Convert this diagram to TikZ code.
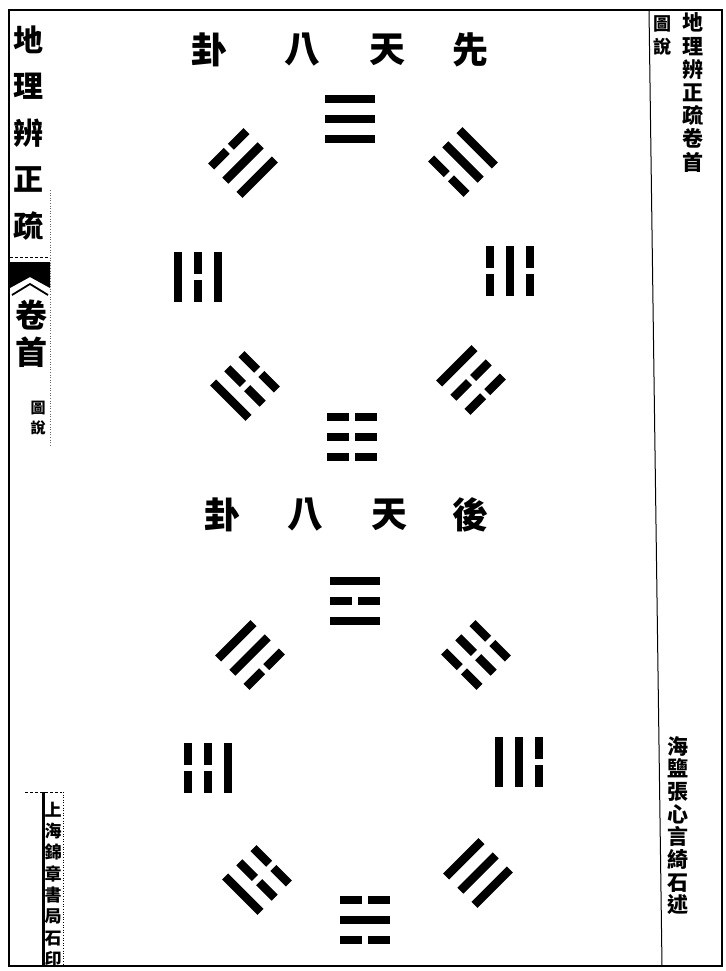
\documentclass[tikz,border=0pt]{standalone}
\usepackage{fontspec}
\newfontfamily\cjk{Noto Sans CJK TC}
\tikzset{
  yaoline/.style={line width=8.5pt, line cap=butt, black},
  framel/.style={line width=1.4pt, black},
  vcol/.style={inner sep=0pt, align=center, text=black},
  titlech/.style={inner sep=0pt, text=black, font=\cjk\bfseries\fontsize{36}{36}\selectfont},
}
\newcommand\yao[2]{%
  \ifnum#2=1 \draw[yaoline] (-25,#1) -- (25,#1);%
  \else \draw[yaoline] (-25,#1) -- (-3,#1) (3,#1) -- (25,#1);\fi}
% x, y, outward angle, outer, middle, inner (1 solid, 0 broken)
\newcommand\trigram[6]{%
  \begin{scope}[shift={(#1,#2)}, rotate=#3-90]
    \yao{20}{#4}\yao{0}{#5}\yao{-20}{#6}
  \end{scope}}
\begin{document}
\begin{tikzpicture}[x=1pt,y=1pt]
\fill[white] (0,0) rectangle (725,-971);
\useasboundingbox (0,0) rectangle (725,-971);

% frame
\draw[framel] (9,-10) rectangle (722,-966);
\draw[line width=1pt] (649,-10) -- (662,-966);

% left column
\node[vcol, font=\cjk\bfseries\fontsize{30}{46.5}\selectfont] (lt) at (28,-133) {地\\理\\辨\\正\\疏};
\draw[densely dashed, line width=0.6pt] (10,-257) -- (50,-257);
\fill[black] (10,-262) -- (50,-262) -- (50,-288) -- (30,-277) -- (10,-288) -- cycle;
\draw[line width=1.8pt] (12,-295) -- (30,-284) -- (48,-295);
\node[vcol, font=\cjk\bfseries\fontsize{32}{37}\selectfont] (juan) at (31,-333.5) {卷\\首};
\node[vcol, font=\cjk\bfseries\fontsize{15}{20}\selectfont] (tsl) at (38,-418) {圖\\說};
\draw[dotted, line width=0.6pt, black!60] (50,-190) -- (50,-445);

% bottom-left imprint
\draw[densely dashed, line width=0.6pt] (25,-792) -- (62,-792);
\draw[line width=3pt] (43,-792) -- (43,-966);
\draw[dotted, line width=0.6pt] (63,-792) -- (63,-966);
\node[vcol, font=\cjk\bfseries\fontsize{17}{21.3}\selectfont] (imp) at (53,-884.5) {上\\海\\錦\\章\\書\\局\\石\\印};

% right column
\node[vcol, font=\cjk\bfseries\fontsize{21}{23.2}\selectfont] (rt) at (693,-92.5) {地\\理\\辨\\正\\疏\\卷\\首};
\node[vcol, font=\cjk\bfseries\fontsize{18}{23}\selectfont] (rsl) at (662,-35.5) {圖\\說};
\node[vcol, font=\cjk\bfseries\fontsize{21}{22.7}\selectfont] (auth) at (678,-825.5) {海\\鹽\\張\\心\\言\\綺\\石\\述};

% titles
\node[titlech] (t1a) at (209,-50) {卦};
\node[titlech] (t1b) at (302,-50) {八};
\node[titlech] (t1c) at (387,-50) {天};
\node[titlech] (t1d) at (470,-50) {先};
\node[titlech] (t2a) at (222,-515) {卦};
\node[titlech] (t2b) at (305,-515) {八};
\node[titlech] (t2c) at (389,-515) {天};
\node[titlech] (t2d) at (470,-515) {後};

% upper octagon
\trigram{350}{-119}{90}{1}{1}{1}
\trigram{243}{-163}{135}{0}{1}{1}
\trigram{463}{-162}{45}{1}{1}{0}
\trigram{198}{-277}{180}{1}{0}{1}
\trigram{510}{-271}{0}{0}{1}{0}
\trigram{245}{-386}{225}{1}{0}{0}
\trigram{471}{-380}{315}{0}{0}{1}
\trigram{352}{-437}{270}{0}{0}{0}

% lower octagon
\trigram{355}{-601}{90}{1}{0}{1}
\trigram{250}{-655}{135}{1}{1}{0}
\trigram{476}{-655}{45}{0}{0}{0}
\trigram{208}{-768}{180}{0}{0}{1}
\trigram{519}{-762}{0}{0}{1}{1}
\trigram{257}{-880}{225}{1}{0}{0}
\trigram{478}{-873}{315}{1}{1}{1}
\trigram{365}{-920}{270}{0}{1}{0}
\end{tikzpicture}
\end{document}
